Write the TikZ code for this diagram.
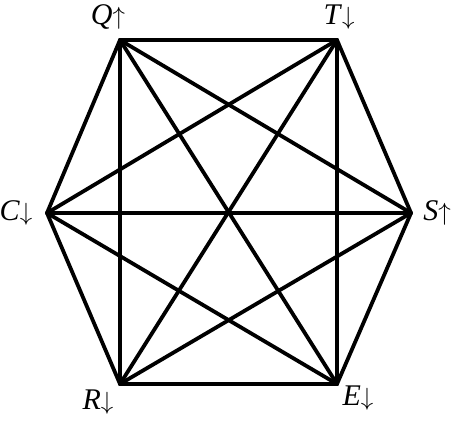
\documentclass[tikz,border=0pt]{standalone}
\usepackage{fontspec}
\setmainfont{Liberation Serif}
\begin{document}
\begin{tikzpicture}[x=1pt,y=-1pt,
  edge/.style={line width=3.8pt,line cap=round,line join=round},
  lab/.style={font=\fontsize{30}{32}\selectfont,inner sep=0pt}]
\useasboundingbox (0,0) rectangle (454,420);
\coordinate (Q) at (120,40);
\coordinate (T) at (337,40);
\coordinate (S) at (411,213);
\coordinate (E) at (337,384);
\coordinate (R) at (120,384);
\coordinate (C) at (47,213);
\foreach \a/\b in {Q/T,T/S,S/E,E/R,R/C,C/Q,Q/R,T/E,Q/E,T/R,C/S,Q/S,T/C,R/S,E/C}
  \draw[edge] (\a) -- (\b);
\node[lab] (lq) at (108,17) {\textit{Q}$\uparrow$};
\node[lab] (lt) at (339,17) {\textit{T}$\downarrow$};
\node[lab] (lc) at (16,213) {\textit{C}$\downarrow$};
\node[lab] (ls) at (437,213) {\textit{S}$\uparrow$};
\node[lab] (lr) at (98,402) {\textit{R}$\downarrow$};
\node[lab] (le) at (358,398) {\textit{E}$\downarrow$};
\end{tikzpicture}
\end{document}
